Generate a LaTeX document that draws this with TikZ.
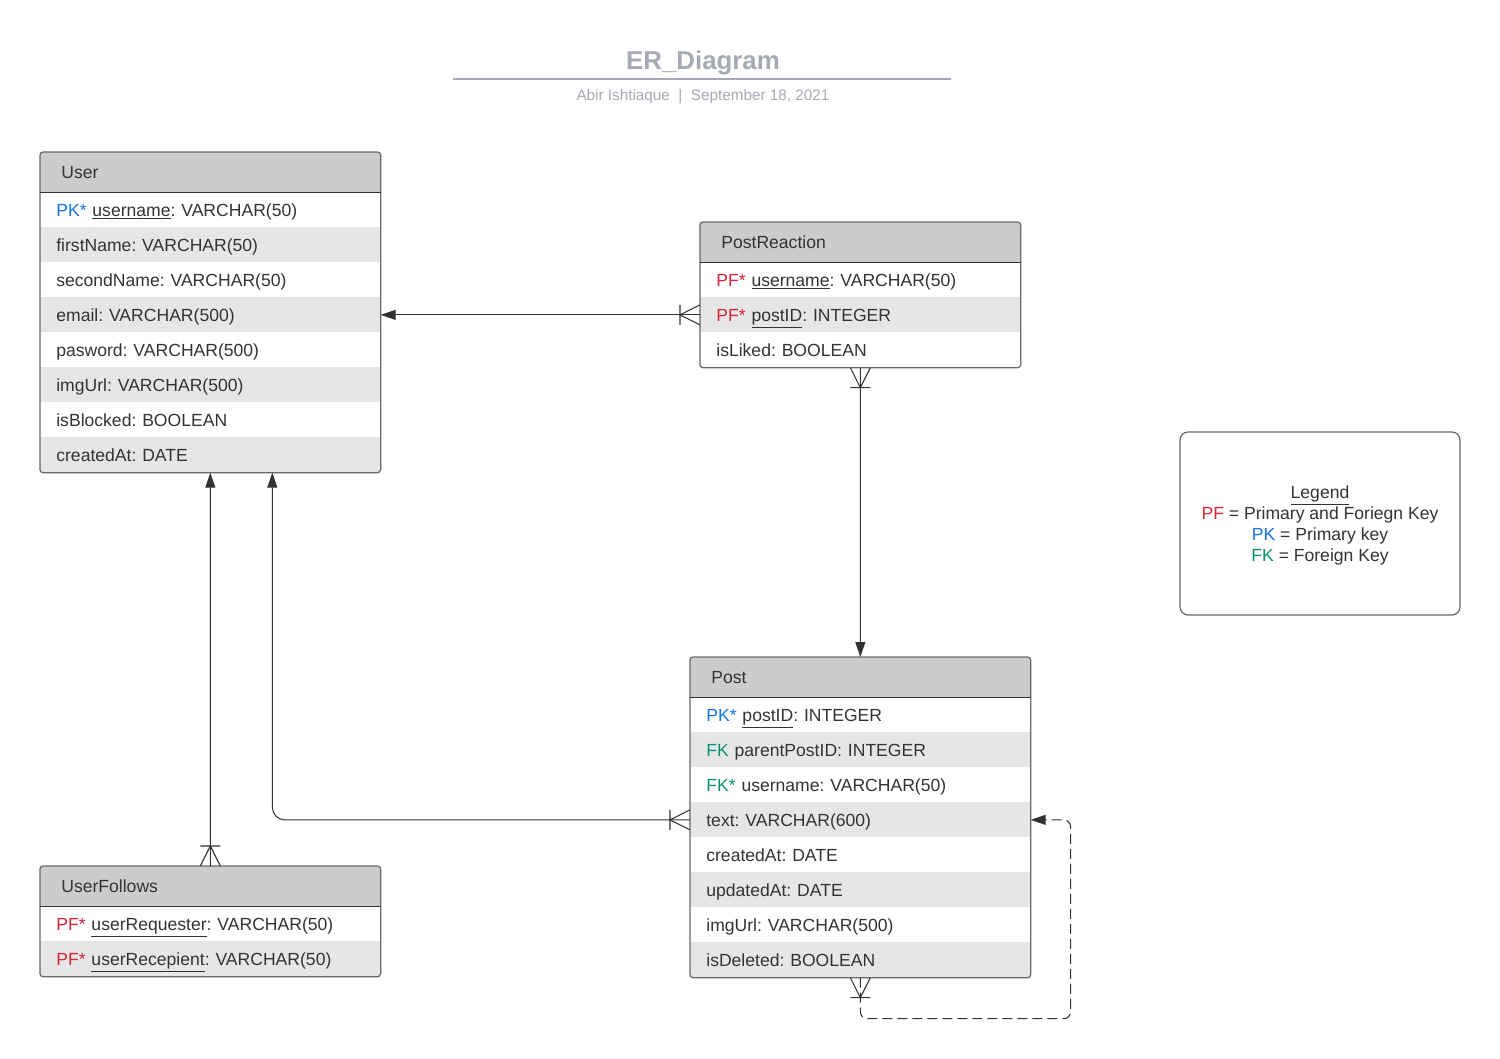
\documentclass[tikz,border=0pt]{standalone}
\usepackage{fontspec}
\setmainfont{Liberation Sans}
\usetikzlibrary{arrows.meta,calc}
\frenchspacing

\definecolor{txtgray}{RGB}{51,51,51}
\definecolor{headgray}{RGB}{204,204,204}
\definecolor{rowgray}{RGB}{230,230,230}
\definecolor{bordergray}{RGB}{105,105,105}
\definecolor{linegray}{RGB}{51,51,51}
\definecolor{titlegray}{RGB}{165,170,180}
\definecolor{pkblue}{RGB}{21,115,230}
\definecolor{pfred}{RGB}{215,35,55}
\definecolor{fkgreen}{RGB}{10,145,115}

\tikzset{
  head/.style={anchor=north west, fill=headgray, minimum height=0.8cm, inner xsep=0.42cm, inner ysep=0pt, text width=#1, align=left, text height=7.2pt, text depth=0pt},
  head/.default=5.96cm,
  row/.style={anchor=north west, fill=white, minimum height=0.7cm, inner xsep=0.32cm, inner ysep=0pt, text width=#1, align=left, text height=7.2pt, text depth=0pt},
  row/.default=6.16cm,
  rowalt/.style={row=#1, fill=rowgray},
  rowalt/.default=6.16cm,
  tbl/.style={draw=bordergray, line width=0.7pt, rounded corners=0.06cm},
  conn/.style={draw=linegray, line width=0.6pt},
  arrowend/.style={-{Triangle[length=0.3cm,width=0.2cm]}},
  crowfoot/.pic={\draw[conn] (0cm,0.2cm) -- (-0.4cm,0cm) -- (0cm,-0.2cm) (-0.4cm,0.2cm) -- (-0.4cm,-0.2cm);}
}

\begin{document}
\begin{tikzpicture}[x=0.02cm, y=-0.02cm, text=txtgray, font=\fontsize{10}{12}\selectfont]
            \useasboundingbox[fill=white] (0,0) rectangle (1500,1058);

            \node[anchor=base, font=\fontsize{14.7}{17}\selectfont\bfseries, text=titlegray] (title) at (703,69.5) {ER\_Diagram};
            \draw[titlegray, line width=1pt] (453,79) -- (951,79);
            \node[anchor=base, font=\fontsize{8.7}{10}\selectfont, text=titlegray] (sub) at (703,100.5) {Abir Ishtiaque\ \ |\ \ September 18, 2021};

            \node[head] (uHead) at (40,152) {User};
            \node[row] (uName) at (40,192) {\textcolor{pkblue}{PK*} \underline{username}: VARCHAR(50)};
            \node[rowalt] (uFirst) at (40,227) {firstName: VARCHAR(50)};
            \node[row] (uSecond) at (40,262) {secondName: VARCHAR(50)};
            \node[rowalt] (uEmail) at (40,297) {email: VARCHAR(500)};
            \node[row] (uPass) at (40,332) {pasword: VARCHAR(500)};
            \node[rowalt] (uImg) at (40,367) {imgUrl: VARCHAR(500)};
            \node[row] (uBlocked) at (40,402) {isBlocked: BOOLEAN};
            \node[rowalt] (uCreated) at (40,437) {createdAt: DATE};
            \draw[tbl] (uHead.north west) rectangle (uCreated.south east);
            \draw[conn] (uHead.south west) -- (uHead.south east);

            \node[head=5.56cm] (prHead) at (700,222) {PostReaction};
            \node[row=5.76cm] (prName) at (700,262) {\textcolor{pfred}{PF*} \underline{username}: VARCHAR(50)};
            \node[rowalt=5.76cm] (prPostID) at (700,297) {\textcolor{pfred}{PF*} \underline{postID}: INTEGER};
            \node[row=5.76cm] (prLiked) at (700,332) {isLiked: BOOLEAN};
            \draw[tbl] (prHead.north west) rectangle (prLiked.south east);
            \draw[conn] (prHead.south west) -- (prHead.south east);

            \node[head] (pHead) at (690,657) {Post};
            \node[row] (pID) at (690,697) {\textcolor{pkblue}{PK*} \underline{postID}: INTEGER};
            \node[rowalt] (pParent) at (690,732) {\textcolor{fkgreen}{FK} parentPostID: INTEGER};
            \node[row] (pUser) at (690,767) {\textcolor{fkgreen}{FK*} username: VARCHAR(50)};
            \node[rowalt] (pText) at (690,802) {text: VARCHAR(600)};
            \node[row] (pCreated) at (690,837) {createdAt: DATE};
            \node[rowalt] (pUpdated) at (690,872) {updatedAt: DATE};
            \node[row] (pImg) at (690,907) {imgUrl: VARCHAR(500)};
            \node[rowalt] (pDeleted) at (690,942) {isDeleted: BOOLEAN};
            \draw[tbl] (pHead.north west) rectangle (pDeleted.south east);
            \draw[conn] (pHead.south west) -- (pHead.south east);

            \node[head] (ufHead) at (40,866) {UserFollows};
            \node[row] (ufReq) at (40,906) {\textcolor{pfred}{PF*} \underline{userRequester}: VARCHAR(50)};
            \node[rowalt] (ufRec) at (40,941) {\textcolor{pfred}{PF*} \underline{userRecepient}: VARCHAR(50)};
            \draw[tbl] (ufHead.north west) rectangle (ufRec.south east);
            \draw[conn] (ufHead.south west) -- (ufHead.south east);

            \node[draw=bordergray, line width=0.7pt, rounded corners=0.16cm, minimum width=5.6cm, minimum height=3.66cm, align=center] (legend) at (1320,523.5) {\rule{0pt}{9.6pt}\underline{Legend}\\\textcolor{pfred}{PF} = Primary and Foriegn Key\\\textcolor{pkblue}{PK} = Primary key\\\textcolor{fkgreen}{FK} = Foreign Key};

            \coordinate (uIn) at ($(uCreated.south)+(1.24cm,0cm)$);
            \coordinate (loopTurn) at ($(pText.east)+(0.8cm,0cm)$);

            \draw[conn, arrowend] (prPostID.west) -- (uEmail.east);
            \draw[conn, arrowend] (prLiked.south) -- (pHead.north);
            \draw[conn, arrowend] (ufHead.north) -- (uCreated.south);
            \draw[conn, arrowend, rounded corners=0.25cm] (pText.west) -| (uIn);
            \draw[conn, arrowend, dash pattern=on 0.2cm off 0.1cm, rounded corners=0.14cm] (pDeleted.south) -- ++(0cm,-0.82cm) -| (loopTurn) -- (pText.east);

            \pic at (prPostID.west) {crowfoot};
            \pic[rotate=90] at (prLiked.south) {crowfoot};
            \pic[rotate=-90] at (ufHead.north) {crowfoot};
            \pic at (pText.west) {crowfoot};
            \pic[rotate=90] at (pDeleted.south) {crowfoot};
        \end{tikzpicture}
\end{document}
